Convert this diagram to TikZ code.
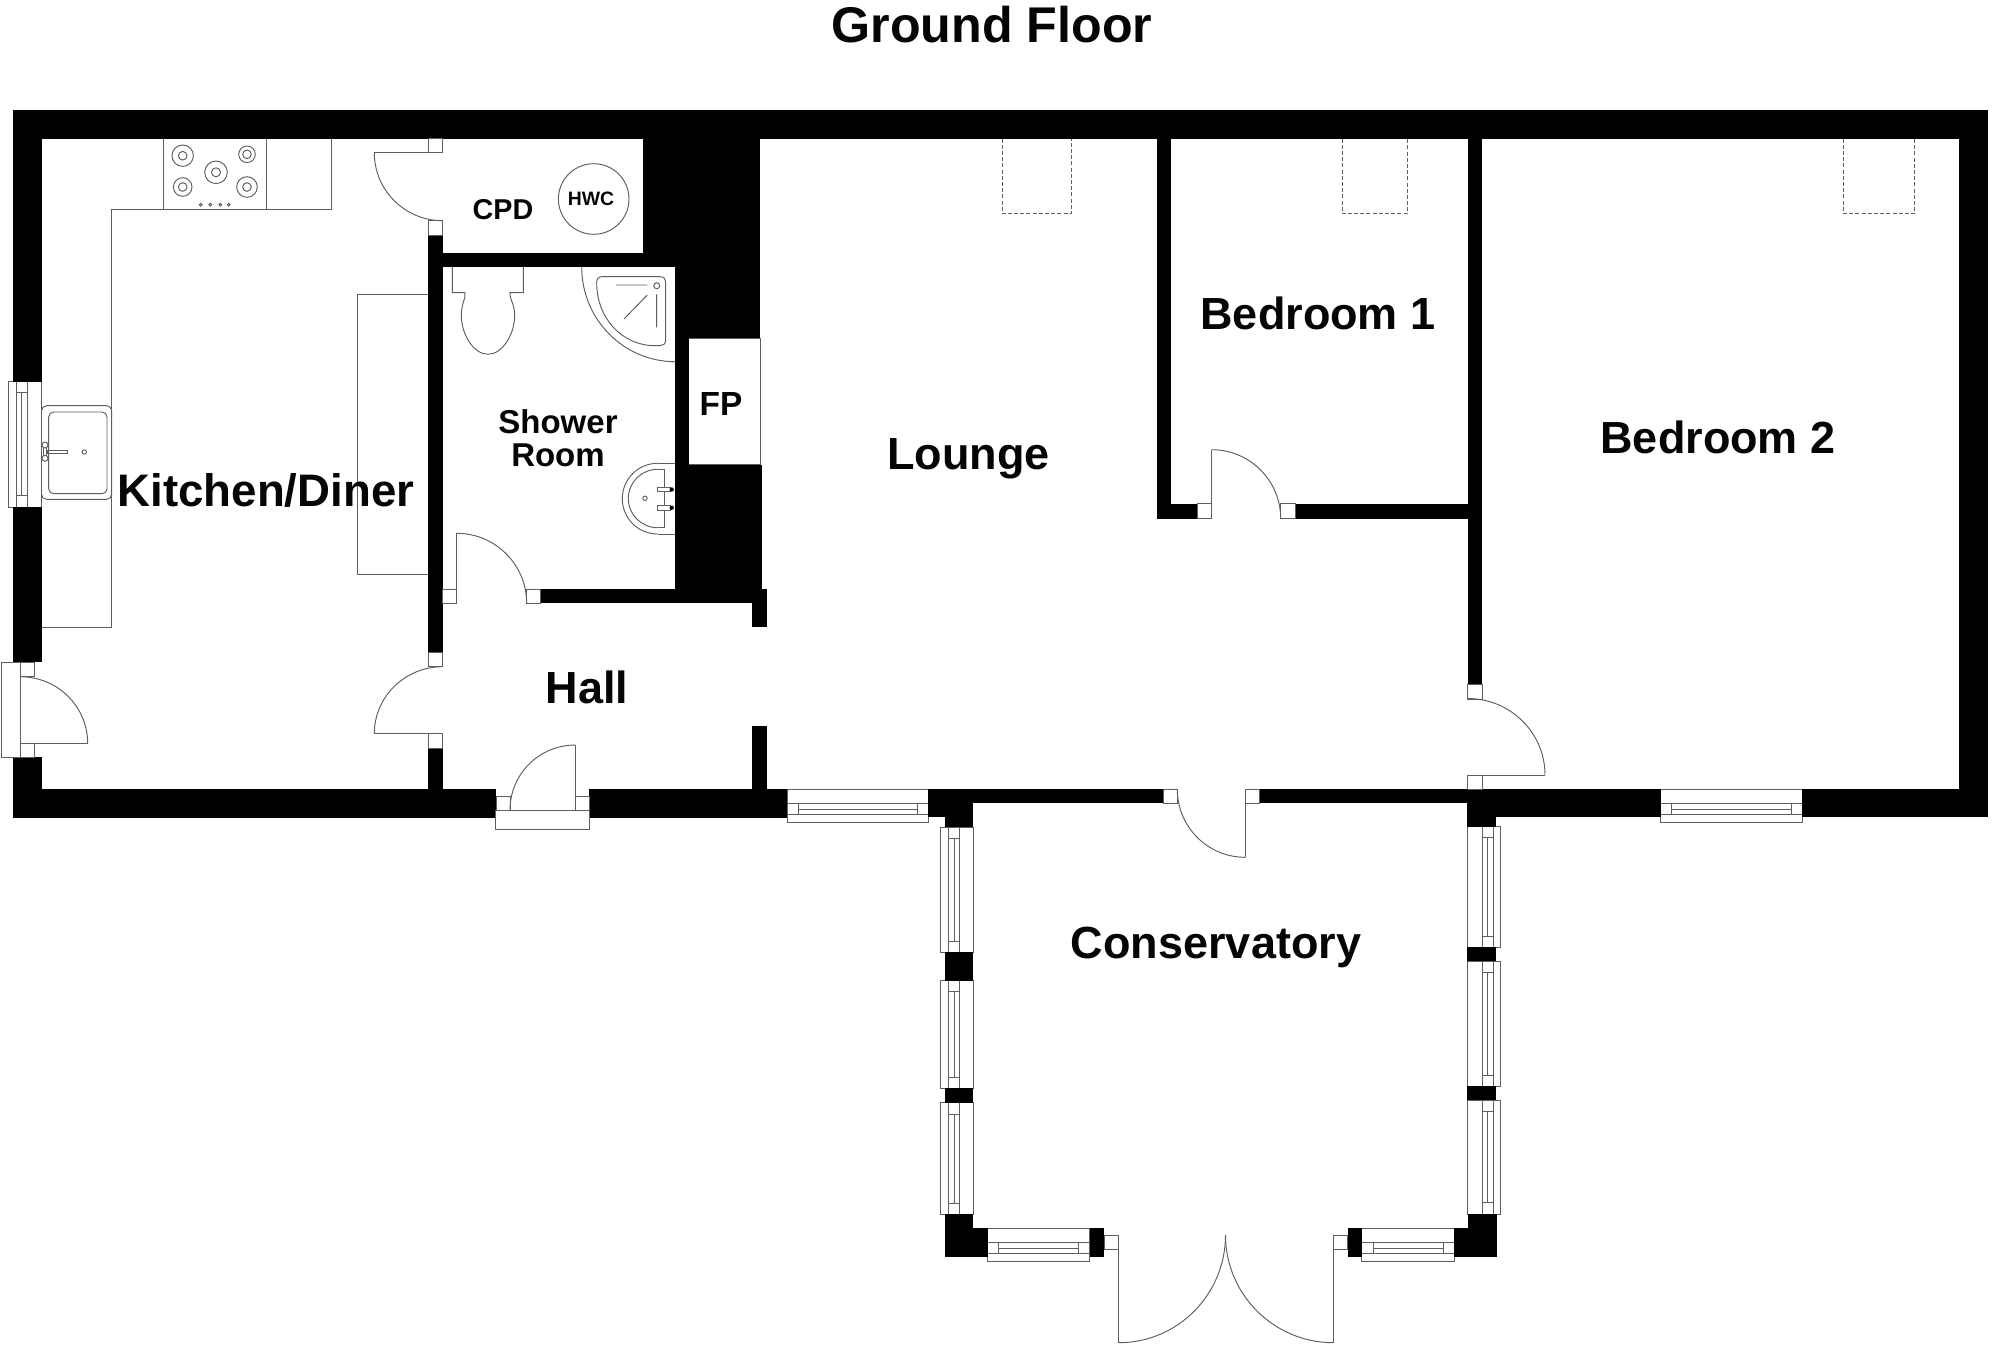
\documentclass[tikz,border=0pt]{standalone}
\usepackage{fontspec}
\setmainfont{Liberation Sans}
\definecolor{linegray}{HTML}{5E5E5E}
\definecolor{inkblack}{HTML}{050505}
\tikzset{
  thinline/.style={draw=linegray,line width=0.95pt},
  dashline/.style={draw=linegray,line width=0.95pt,dash pattern=on 4pt off 2.2pt},
  wall/.style={fill=black,draw=none},
  room/.style={inner sep=0pt,text=inkblack,font=\bfseries\fontsize{45}{45}\selectfont},
}
\newcommand{\wl}[4]{\fill[wall] (#1,#2) rectangle (#3,#4);}
\newcommand{\bx}[4]{\draw[thinline] (#1,#2) rectangle (#3,#4);}
\newcommand{\qarc}[6]{\draw[thinline] ({#1+#3},{#2+#4}) .. controls ({#1+#3+0.5523*#5},{#2+#4+0.5523*#6}) and ({#1+#5+0.5523*#3},{#2+#6+0.5523*#4}) .. ({#1+#5},{#2+#6});}
% horizontal window: x1 x2 inner1 inner2 ytop l1 mid l2 ybottom
\newcommand{\hwin}[9]{\draw[thinline] (#1,#5) rectangle (#2,#9);
  \draw[thinline] (#1,#6) -- (#2,#6) (#1,#8) -- (#2,#8) (#3,#7) -- (#4,#7) (#3,#6) -- (#3,#8) (#4,#6) -- (#4,#8);}
% vertical window: xl xr l1 mid l2 y1 y2 i1 i2
\newcommand{\vwin}[9]{\draw[thinline] (#1,#6) rectangle (#2,#7);
  \draw[thinline] (#3,#6) -- (#3,#7) (#5,#6) -- (#5,#7) (#4,#8) -- (#4,#9) (#3,#8) -- (#5,#8) (#3,#9) -- (#5,#9);}
\begin{document}
\begin{tikzpicture}[x=1pt,y=-1pt]
\useasboundingbox (0,0) rectangle (1992,1345);
\fill[white] (0,0) rectangle (1992,1345);

% ---------- kitchen fittings
\draw[thinline] (331.7,138.5) -- (331.7,209) -- (111.7,209) -- (111.7,627) -- (41.5,627);
\bx{163.3}{138.5}{266.7}{209}
\foreach \cx/\cy/\ra/\rb in {182.7/155.7/10.7/4.3,247/154.3/8.3/4.3,216/172.3/11.3/4.5,182.7/187/9.3/4.3,247/187/10.3/4.3}{
  \draw[thinline] (\cx,\cy) circle[radius=\ra pt];
  \draw[thinline] (\cx,\cy) circle[radius=\rb pt];
}
\foreach \dx in {200.7,210.3,220.3,228.7}{\draw[thinline] (\dx,204.7) circle[radius=1.4pt];}
\draw[thinline,rounded corners=5pt,fill=white] (41.5,405.7) rectangle (111.7,499.3);
\draw[thinline,rounded corners=5pt] (48.7,412) rectangle (107,493.7);
\draw[thinline] (47,450) rectangle (67,453.3);
\draw[thinline,fill=white] (43.2,445) rectangle (46.8,458);
\draw[thinline,fill=white] (45,445) circle[radius=3pt];
\draw[thinline,fill=white] (45,458.3) circle[radius=3pt];
\draw[thinline] (84.3,452) circle[radius=2.2pt];
\bx{357.7}{294}{428.3}{574.3}

% ---------- windows
\vwin{8.3}{41.5}{16}{21.7}{27.3}{381.7}{507.3}{392.3}{495.7}
\hwin{787.3}{928.3}{798}{917}{789.3}{803.3}{809}{814.3}{822.3}
\hwin{1660.7}{1802.3}{1671.3}{1791}{789.3}{803.3}{809}{814.3}{822.3}
\vwin{940.7}{973.3}{948.3}{954}{959.7}{827.3}{952.3}{838.3}{941}
\vwin{940.7}{973.3}{948.3}{954}{959.7}{980.7}{1088.3}{991.7}{1077.3}
\vwin{940.7}{973.3}{948.3}{954}{959.7}{1102.7}{1214.3}{1114}{1203.3}
\vwin{1467.2}{1500.9}{1482}{1487.6}{1493.3}{826.7}{947.3}{837.3}{936.3}
\vwin{1467.2}{1500.9}{1482}{1487.6}{1493.3}{961.3}{1086}{972.7}{1075}
\vwin{1467.2}{1500.9}{1482}{1487.6}{1493.3}{1100.3}{1214}{1111.7}{1202.7}
\hwin{987.7}{1089.8}{998.4}{1078.7}{1228.3}{1242.3}{1248.3}{1253.7}{1261.7}
\hwin{1361.6}{1454.2}{1373}{1443}{1228.3}{1242.3}{1248.3}{1253.7}{1261.7}

% ---------- walls
\wl{13}{110}{1988}{138.5}
\wl{13}{110}{41.5}{381.7}
\wl{13}{507.3}{41.5}{662}
\wl{13}{757.3}{41.5}{817.5}
\wl{13}{789}{496}{817.5}
\wl{589}{789}{787.3}{817.5}
\wl{928.3}{789.3}{1163.3}{803.3}
\wl{928.3}{789.3}{973.3}{817.3}
\wl{945}{789.3}{973.3}{827.3}
\wl{1259.3}{789.3}{1467.7}{803.3}
\wl{1467.2}{789.3}{1496}{826.7}
\wl{1496}{789.3}{1660.7}{817.3}
\wl{1802.3}{789.3}{1988}{817.3}
\wl{1959}{110}{1988}{817.3}
\wl{428.3}{235}{442.7}{652}
\wl{428.3}{748}{442.7}{789}
\wl{442.7}{252.7}{675.3}{267}
\wl{642.7}{138.5}{760}{267}
\wl{675.3}{252.7}{760}{338.3}
\wl{675.3}{338}{689.3}{466}
\wl{675.3}{465}{761.7}{590}
\wl{540.7}{589}{766.7}{603.3}
\wl{751.7}{589}{766.7}{627.3}
\wl{751.7}{725.7}{766.7}{789}
\wl{1156.7}{138.5}{1171.3}{518.7}
\wl{1156.7}{503.7}{1197.7}{518.7}
\wl{1295}{503.7}{1467.7}{518.7}
\wl{1467.7}{138.5}{1482}{684.7}
\wl{945}{952.3}{973.3}{980.7}
\wl{945}{1088.3}{973.3}{1102.7}
\wl{1467.2}{947.3}{1496}{961.3}
\wl{1467.2}{1086}{1496}{1100.3}
\wl{945}{1214.3}{973.4}{1256.7}
\wl{945}{1228.3}{987.7}{1256.7}
\wl{1089.8}{1228.3}{1104}{1256.7}
\wl{1347.8}{1228.3}{1361.6}{1256.7}
\wl{1454.2}{1228.3}{1496.6}{1256.7}
\wl{1468}{1214}{1496.6}{1256.7}

% ---------- door jambs
\bx{428.3}{138.5}{442.7}{152.7}
\bx{428.3}{220.7}{442.7}{235}
\bx{428.3}{652}{442.7}{666.7}
\bx{428.3}{733.7}{442.7}{748}
\bx{20.3}{662}{34.3}{676.7}
\bx{20.3}{743.3}{34.3}{757.3}
\bx{442.7}{589}{456.7}{603.3}
\bx{526.7}{589}{540.7}{603.3}
\bx{496}{796}{510}{810}
\bx{575.3}{796}{589}{810}
\bx{1163.3}{789.3}{1177.7}{803.3}
\bx{1245.3}{789.3}{1259.3}{803.3}
\bx{1197.7}{503.7}{1211.7}{518.7}
\bx{1280.7}{503.7}{1295}{518.7}
\bx{1467.7}{684.7}{1482}{699}
\bx{1467.7}{775}{1482}{789.3}
\bx{1104}{1235}{1118.7}{1249.7}
\bx{1333.5}{1235}{1347.8}{1249.7}

% ---------- door leaves and swings
\draw[thinline] (374.3,152.7) -- (442.7,152.7);
\qarc{442.7}{152.7}{-68.4}{0}{0}{68}
\draw[thinline] (374.3,733.7) -- (442.7,733.7);
\qarc{442.7}{733.7}{-68.4}{0}{0}{-67}
\draw[thinline] (1.3,662) rectangle (20.3,757.3);
\draw[thinline] (20.3,743.3) -- (87.7,743.3);
\qarc{20.3}{743.3}{67.4}{0}{0}{-66.6}
\draw[thinline] (456.7,533.3) -- (456.7,589);
\qarc{456.7}{603.3}{0}{-70}{70}{0}
\draw[thinline] (495.7,810) rectangle (589.3,829.3);
\draw[thinline] (575.3,745) -- (575.3,810);
\qarc{575.3}{810}{0}{-65}{-65.3}{0}
\draw[thinline] (1245.3,803.3) -- (1245.3,857.3);
\qarc{1245.3}{789.3}{-68}{0}{0}{68}
\draw[thinline] (1211.7,449.7) -- (1211.7,503.7);
\qarc{1211.7}{518.7}{0}{-69}{69}{0}
\draw[thinline] (1482,775) -- (1545,775);
\qarc{1467.7}{775}{0}{-76.5}{77.3}{0}
\draw[thinline] (1118.7,1249.7) -- (1118.7,1342.7);
\qarc{1118.7}{1235}{106.8}{0}{0}{107.7}
\draw[thinline] (1333.5,1249.7) -- (1333.5,1342.7);
\qarc{1333.5}{1235}{-108}{0}{0}{107.7}

% ---------- fireplace, cylinder
\draw[thinline] (689.3,338.3) -- (760,338.3) -- (760,464.3) -- (689.3,464.3);
\draw[thinline] (593.7,199) circle[radius=35.3pt];

% ---------- WC
\draw[thinline] (452.3,267) -- (452.3,292.7) -- (465,292.7) .. controls (466,298) and (461.3,304) .. (461.3,315) .. controls (461.3,335) and (474,354.3) .. (488,354.3) .. controls (502,354.3) and (514.7,335) .. (514.7,315) .. controls (514.7,304) and (509,298) .. (510,292.7) -- (523.3,292.7) -- (523.3,267);

% ---------- shower
\qarc{675.3}{267}{-93.6}{0}{0}{94.7}
\draw[thinline] (596.7,283) .. controls (596.7,279) and (598,276.7) .. (602,276.7) -- (660,276.7) .. controls (664,276.7) and (665.7,279) .. (665.7,282) -- (665.7,340) .. controls (665.7,344) and (663,345.7) .. (660,345.7) -- (655,345.7) .. controls (622,345.7) and (596.7,318) .. (596.7,283);
\draw[thinline] (616,285) -- (647.3,285) (656.7,294.3) -- (656.7,327.3) (647.3,295) -- (624,319);
\draw[thinline] (656.7,285.7) circle[radius=3pt];

% ---------- basin
\draw[thinline] (675.3,463.3) -- (657.6,463.3);
\draw[thinline] (675.3,534) -- (657.6,534);
\qarc{657.6}{498.7}{0}{-35.4}{-35.3}{0}
\qarc{657.6}{498.7}{-35.3}{0}{0}{35.3}
\draw[thinline] (657.6,469.3) -- (664.7,469.3) -- (664.7,527.7) -- (657.6,527.7);
\qarc{657.6}{498.5}{0}{-29.2}{-29.3}{0}
\qarc{657.6}{498.5}{-29.3}{0}{0}{29.2}
\draw[thinline,fill=white] (657,487.3) rectangle (670,491.7);
\draw[thinline,fill=white] (657,505.7) rectangle (670,510);
\fill[black] (671.7,489.5) circle[radius=2.2pt];
\fill[black] (671.7,507.7) circle[radius=2.2pt];
\draw[thinline] (645,498.3) circle[radius=2.2pt];

% ---------- chimney breasts (dashed)
\draw[dashline] (1002.3,138.5) -- (1002.3,213.7) -- (1071,213.7) -- (1071,138.5);
\draw[dashline] (1342.3,138.5) -- (1342.3,213.7) -- (1407.3,213.7) -- (1407.3,138.5);
\draw[dashline] (1843.7,138.5) -- (1843.7,213.7) -- (1914.7,213.7) -- (1914.7,138.5);

% ---------- labels
\node[room,font=\bfseries\fontsize{50.2}{50.2}\selectfont] (title) at (992,25) {Ground Floor};
\node[room,font=\bfseries\fontsize{45.6}{45.6}\selectfont] (kitchen) at (266,490.5) {Kitchen/Diner};
\node[room] (lounge) at (968.6,459) {Lounge};
\node[room] (bed1) at (1318,313) {Bedroom 1};
\node[room] (bed2) at (1718,437.5) {Bedroom 2};
\node[room] (cons) at (1216,947) {Conservatory};
\node[room] (hall) at (587,687) {Hall};
\node[room,font=\bfseries\fontsize{33.4}{33.4}\selectfont] (fp) at (721,404.5) {FP};
\node[room,font=\bfseries\fontsize{28.7}{28.7}\selectfont] (cpd) at (503,209.5) {CPD};
\node[room,font=\bfseries\fontsize{19.4}{19.4}\selectfont] (hwc) at (591,198.4) {HWC};
\node[room,align=center,font=\bfseries\fontsize{33}{33}\selectfont] (shower) at (558,438.5) {Shower\\Room};
\end{tikzpicture}
\end{document}
